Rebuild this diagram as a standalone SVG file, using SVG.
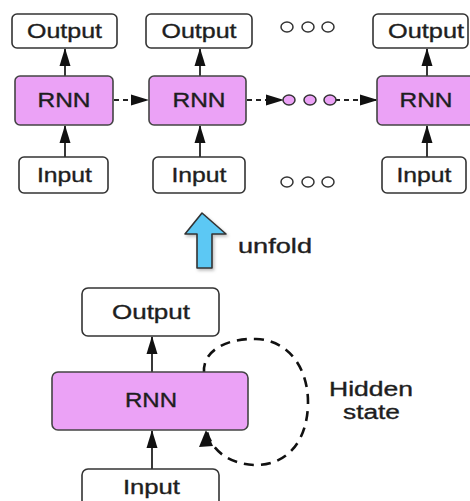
<svg xmlns="http://www.w3.org/2000/svg" width="470" height="501" viewBox="0 0 470 501">
<style>
.box{fill:#fff;stroke:#333;stroke-width:1.6}
.rnn{fill:#eba2f6;stroke:#444;stroke-width:1.6}
.t{font-family:"Liberation Sans",Arial,sans-serif;font-size:19.5px;fill:#1e1e1e;stroke:#1e1e1e;stroke-width:0.35;text-anchor:middle}
.c{stroke:#222;stroke-width:1.8;fill:none}
.d{stroke-dasharray:5 4}
.dot{fill:#fff;stroke:#333;stroke-width:1.5}
.pdot{fill:#eba2f6;stroke:#333;stroke-width:1.5}
</style>
<defs>
<marker id="ah" markerUnits="userSpaceOnUse" viewBox="0 0 18 12" markerWidth="18" markerHeight="12" refX="17" refY="6" orient="auto">
<path d="M0,0.5 L18,6 L0,11.5 z" fill="#111"/>
</marker>
<filter id="sh" x="-20%" y="-20%" width="150%" height="150%">
<feDropShadow dx="1.5" dy="2" stdDeviation="1.5" flood-color="#000" flood-opacity="0.25"/>
</filter>
</defs>
<rect width="470" height="501" fill="#fff"/>

<g id="connectors">
<line class="c" x1="65" y1="76" x2="65" y2="49" marker-end="url(#ah)"/>
<line class="c" x1="65" y1="157" x2="65" y2="126" marker-end="url(#ah)"/>
<line class="c" x1="200" y1="76" x2="200" y2="49" marker-end="url(#ah)"/>
<line class="c" x1="200" y1="157" x2="200" y2="126" marker-end="url(#ah)"/>
<line class="c" x1="427" y1="76" x2="427" y2="49" marker-end="url(#ah)"/>
<line class="c" x1="427" y1="157" x2="427" y2="126" marker-end="url(#ah)"/>
<line class="c d" x1="114" y1="100" x2="148" y2="100" marker-end="url(#ah)"/>
<line class="c d" x1="247" y1="100" x2="283" y2="100" marker-end="url(#ah)"/>
<line class="c d" x1="335" y1="100" x2="377" y2="100" marker-end="url(#ah)"/>
<line class="c" x1="152" y1="372" x2="152" y2="337" marker-end="url(#ah)"/>
<line class="c" x1="152" y1="469" x2="152" y2="431" marker-end="url(#ah)"/>
<path d="M204,373 C202,350 228,338 256,339 C290,340 308,370 308,402 C308,440 288,465 256,465 C232,465 212,452 207,432" stroke="#111" stroke-width="2.6" fill="none" stroke-dasharray="10 7"/>
<path d="M199,447 L206,430 L213,446 z" fill="#111"/>
</g>

<g id="output1"><rect class="box" x="12" y="14" width="105" height="34" rx="5"/><text class="t" x="64.5" y="38" textLength="75" lengthAdjust="spacingAndGlyphs">Output</text></g>
<g id="output2"><rect class="box" x="146" y="14" width="106" height="34" rx="5"/><text class="t" x="199" y="38" textLength="75" lengthAdjust="spacingAndGlyphs">Output</text></g>
<g id="output3"><rect class="box" x="373" y="14" width="95" height="34" rx="5"/><text class="t" x="426" y="38" textLength="76" lengthAdjust="spacingAndGlyphs">Output</text></g>

<g id="rnn1"><rect class="rnn" x="15" y="76" width="98" height="49" rx="5"/><text class="t" x="64" y="107" textLength="53" lengthAdjust="spacingAndGlyphs">RNN</text></g>
<g id="rnn2"><rect class="rnn" x="149" y="76" width="97" height="49" rx="5"/><text class="t" x="199" y="107" textLength="53" lengthAdjust="spacingAndGlyphs">RNN</text></g>
<g id="rnn3"><rect class="rnn" x="377" y="76" width="110" height="49" rx="5"/><text class="t" x="426" y="107" textLength="53" lengthAdjust="spacingAndGlyphs">RNN</text></g>

<g id="input1"><rect class="box" x="19" y="157" width="89" height="36" rx="5"/><text class="t" x="64.5" y="182" textLength="55" lengthAdjust="spacingAndGlyphs">Input</text></g>
<g id="input2"><rect class="box" x="153" y="157" width="92" height="36" rx="5"/><text class="t" x="199" y="182" textLength="55" lengthAdjust="spacingAndGlyphs">Input</text></g>
<g id="input3"><rect class="box" x="382" y="157" width="84" height="36" rx="5"/><text class="t" x="424" y="182" textLength="55" lengthAdjust="spacingAndGlyphs">Input</text></g>

<g id="dots-top"><ellipse class="dot" cx="287" cy="27" rx="6" ry="5"/><ellipse class="dot" cx="308" cy="27" rx="6" ry="5"/><ellipse class="dot" cx="328" cy="27" rx="6" ry="5"/></g>
<g id="dots-mid"><ellipse class="pdot" cx="289" cy="100" rx="6" ry="5"/><ellipse class="pdot" cx="310" cy="100" rx="6" ry="5"/><ellipse class="pdot" cx="330" cy="100" rx="6" ry="5"/></g>
<g id="dots-bottom"><ellipse class="dot" cx="287" cy="182" rx="6" ry="5"/><ellipse class="dot" cx="308" cy="182" rx="6" ry="5"/><ellipse class="dot" cx="328" cy="182" rx="6" ry="5"/></g>

<g id="unfold">
<polygon points="202,213 226,234 212,234 212,268 197,268 197,234 185,234" fill="#5bc8f4" stroke="#333" stroke-width="1.6" stroke-linejoin="round" filter="url(#sh)"/>
<text class="t" x="275" y="253" textLength="74" lengthAdjust="spacingAndGlyphs">unfold</text>
</g>

<g id="output-b"><rect class="box" x="82" y="288" width="137" height="48" rx="6"/><text class="t" x="151" y="319" textLength="78" lengthAdjust="spacingAndGlyphs">Output</text></g>
<g id="rnn-b"><rect class="rnn" x="52" y="372" width="196" height="58" rx="6"/><text class="t" x="151" y="407" textLength="52" lengthAdjust="spacingAndGlyphs">RNN</text></g>
<g id="input-b"><rect class="box" x="82" y="469" width="137" height="48" rx="6"/><text class="t" x="151.5" y="494" textLength="57" lengthAdjust="spacingAndGlyphs">Input</text></g>

<g id="hidden-label">
<text class="t" x="371" y="396" textLength="84" lengthAdjust="spacingAndGlyphs">Hidden</text>
<text class="t" x="371.5" y="419" textLength="57" lengthAdjust="spacingAndGlyphs">state</text>
</g>
</svg>
